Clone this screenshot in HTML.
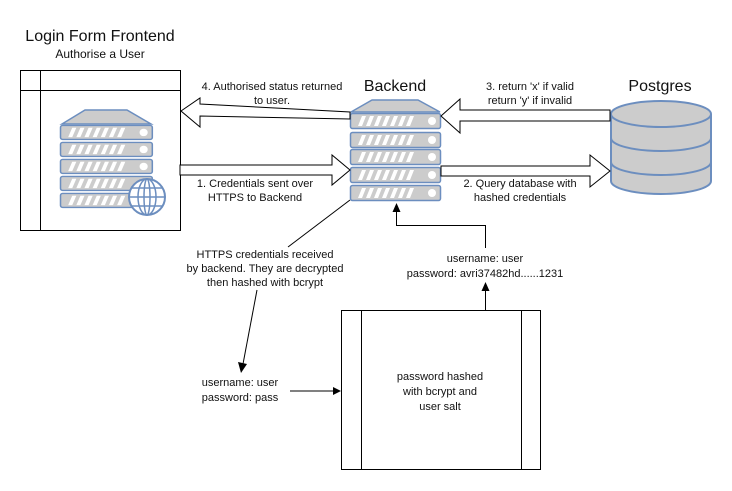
<!DOCTYPE html>
<html><head><meta charset="utf-8"><style>
body{margin:0;background:#fff;}
svg{display:block;font-family:"Liberation Sans",sans-serif;}
</style></head><body>
<svg width="732" height="491" viewBox="0 0 732 491" xmlns="http://www.w3.org/2000/svg">
<defs>
<g id="unit">
<rect x="0.5" y="0.5" width="90" height="15" rx="2" fill="#cccccc" stroke="#6c8ebf" stroke-width="1.5"/>
<g fill="#fff">
<polygon points="8,13 12,3 16,3 12,13"/>
<polygon points="16,13 20,3 24,3 20,13"/>
<polygon points="24,13 28,3 32,3 28,13"/>
<polygon points="32,13 36,3 40,3 36,13"/>
<polygon points="40,13 44,3 48,3 44,13"/>
<polygon points="48,13 52,3 56,3 52,13"/>
<polygon points="56,13 60,3 64,3 60,13"/>
<circle cx="82" cy="8" r="4"/>
</g>
</g>
</defs>

<text x="100" y="41" font-size="16" text-anchor="middle" fill="#111">Login Form Frontend</text>
<text x="100" y="58" font-size="12" text-anchor="middle" fill="#111">Authorise a User</text>
<text x="395" y="91" font-size="16" text-anchor="middle" fill="#111">Backend</text>
<text x="660" y="91" font-size="16" text-anchor="middle" fill="#111">Postgres</text>

<rect x="20.5" y="70.5" width="160" height="160" fill="#fff" stroke="#000" stroke-width="1"/>
<line x1="40.5" y1="70" x2="40.5" y2="231" stroke="#000"/>
<line x1="20" y1="90.5" x2="181" y2="90.5" stroke="#000"/>
<polygon points="62,124 85,110 127,110 151,124" fill="#cccccc" stroke="#6c8ebf" stroke-width="1.5"/>
<g transform="translate(60,125) scale(1.02,0.93)"><use href="#unit"/></g>
<g transform="translate(60,142) scale(1.02,0.93)"><use href="#unit"/></g>
<g transform="translate(60,159) scale(1.02,0.93)"><use href="#unit"/></g>
<g transform="translate(60,176) scale(1.02,0.93)"><use href="#unit"/></g>
<g transform="translate(60,193) scale(1.02,0.93)"><use href="#unit"/></g>
<g fill="none" stroke="#6c8ebf" stroke-width="1.5">
<circle cx="147" cy="197" r="18" fill="#fff" stroke-width="2"/>
<ellipse cx="147" cy="197" rx="9" ry="18"/>
<ellipse cx="147" cy="197" rx="3" ry="18"/>
<line x1="129" y1="197" x2="165" y2="197"/>
<line x1="132" y1="188" x2="162" y2="188"/>
<line x1="132" y1="206" x2="162" y2="206"/>
</g>

<polygon points="351,112 372,100 418,100 440,112" fill="#cccccc" stroke="#6c8ebf" stroke-width="1.5"/>
<use href="#unit" x="350" y="113"/>
<use href="#unit" x="350" y="132"/>
<use href="#unit" x="350" y="149"/>
<use href="#unit" x="350" y="167"/>
<use href="#unit" x="350" y="185"/>

<g fill="#cccccc" stroke="#6c8ebf" stroke-width="2">
<path d="M611,114 L611,181 A50,13 0 0 0 711,181 L711,114"/>
<ellipse cx="661" cy="114" rx="50" ry="13"/>
<path d="M611,138 A50,13 0 0 0 711,138" fill="none"/>
<path d="M611,162 A50,13 0 0 0 711,162" fill="none"/>
</g>

<g fill="#fff" stroke="#000" stroke-width="1">
<polygon points="181,111 200,98 200,104 350,112 350,119 200,116 200,127"/>
<polygon points="180,165 332,165 332,155 350,170 332,185 332,175 180,175"/>
<polygon points="441,116 460,99 460,110 610,110 610,121 460,121 460,133"/>
<polygon points="441,166 590,166 590,155 610,171 590,187 590,176 441,176"/>
</g>

<rect x="341.5" y="310.5" width="199" height="159" fill="#fff" stroke="#000"/>
<line x1="361.5" y1="310" x2="361.5" y2="470" stroke="#000"/>
<line x1="521.5" y1="310" x2="521.5" y2="470" stroke="#000"/>

<g font-size="11" text-anchor="middle" fill="#111">
<text x="272" y="90">4. Authorised status returned</text>
<text x="272" y="104">to user.</text>
<text x="255" y="187">1. Credentials sent over</text>
<text x="255" y="201">HTTPS to Backend</text>
<text x="530" y="90">3. return 'x' if valid</text>
<text x="530" y="104">return 'y' if invalid</text>
<text x="520" y="187">2. Query database with</text>
<text x="520" y="201">hashed credentials</text>
<text x="265" y="258">HTTPS credentials received</text>
<text x="265" y="272">by backend. They are decrypted</text>
<text x="265" y="286">then hashed with bcrypt</text>
<text x="240" y="386">username: user</text>
<text x="240" y="401">password: pass</text>
<text x="485" y="262">username: user</text>
<text x="485" y="277">password: avri37482hd......1231</text>
<text x="440" y="380">password hashed</text>
<text x="440" y="395">with bcrypt and</text>
<text x="440" y="410">user salt</text>
</g>

<g stroke="#000" fill="none" stroke-width="1">
<line x1="350" y1="200" x2="288" y2="247"/>
<line x1="257" y1="290" x2="243" y2="364"/>
<line x1="290" y1="391" x2="334" y2="391"/>
<line x1="485.5" y1="310" x2="485.5" y2="290"/>
<polyline points="485.5,248 485.5,225.5 396.5,225.5 396.5,212"/>
</g>
<g fill="#000">
<polygon points="241,373 238,362 247,364"/>
<polygon points="341,391 333,387 333,395"/>
<polygon points="485.5,282 481.5,291 489.5,291"/>
<polygon points="396.5,203 392.5,212 400.5,212"/>
</g>
</svg>
</body></html>
